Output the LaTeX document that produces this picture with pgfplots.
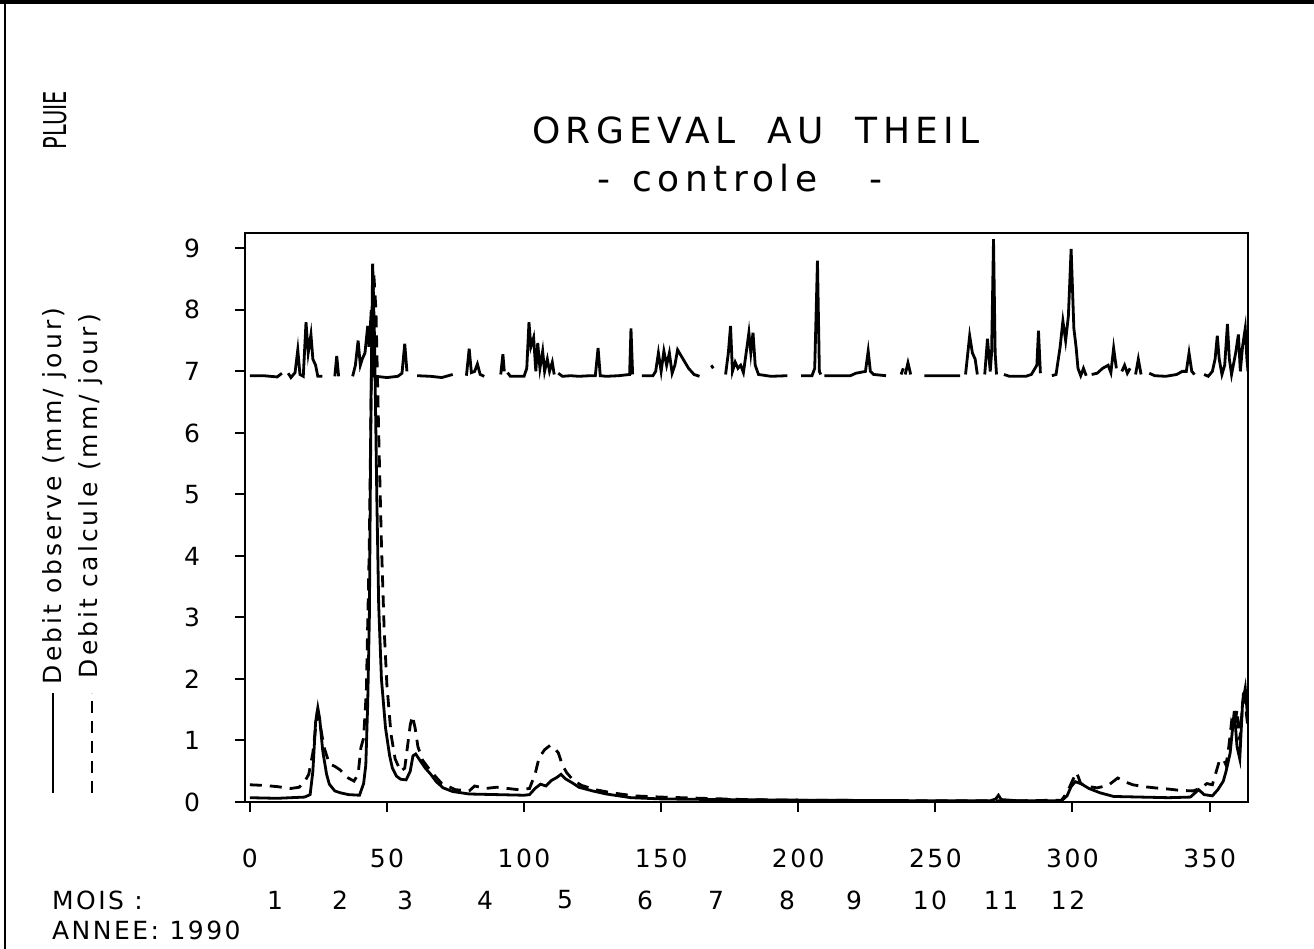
\documentclass[border=0pt]{standalone}
\usepackage{fontspec}
\setmainfont{DejaVu Sans}
\newfontfamily\spaced[LetterSpace=15]{DejaVu Sans}
\newfontfamily\lspaced[LetterSpace=10]{DejaVu Sans}
\newfontfamily\legfont[LetterSpace=12]{DejaVu Sans}
\usepackage{graphicx}
\usepackage{pgfplots}
\pgfplotsset{compat=1.18}

\pgfplotstableread{
x y
0 0.07
10 0.06
20 0.08
22 0.12
23 0.5
24 1.3
24.8 1.53
25.5 1.35
26.6 0.83
28 0.45
29 0.29
31 0.18
33 0.15
36 0.12
40 0.11
41.5 0.3
42.3 0.6
43 1.6
43.6 3.0
44.2 6.5
44.8 8.75
45.5 7.5
46.3 5.0
47 3.2
48 2.0
49.5 1.2
51 0.75
52 0.55
53.5 0.42
55 0.37
57 0.36
58.5 0.5
59.5 0.75
60.5 0.78
62 0.68
64 0.55
66 0.45
68 0.33
70.5 0.23
74 0.17
80 0.13
90 0.12
100 0.11
102 0.12
104 0.22
106 0.29
108 0.26
110 0.35
112 0.4
113.5 0.45
115 0.38
118 0.3
120 0.24
125 0.18
130 0.13
139 0.07
150 0.05
170 0.04
200 0.03
250 0.02
270 0.02
272 0.05
273 0.11
274 0.04
280 0.02
296 0.02
298 0.1
299.5 0.25
301 0.33
303 0.3
306 0.22
310 0.15
315 0.09
325 0.08
335 0.07
343 0.08
346 0.2
348 0.12
351 0.1
353 0.2
355 0.34
356 0.5
357.5 0.8
359 1.48
360 0.9
361 0.7
362 1.6
363 1.85
364 1.3
}\observe

\pgfplotstableread{
x y
0 0.28
5 0.27
10 0.25
15 0.22
18 0.24
20 0.33
21.5 0.45
23 0.8
24.5 1.42
25.5 1.3
27 0.9
29 0.62
31 0.58
33 0.52
35.5 0.4
38 0.34
39.5 0.45
40.5 0.88
41.5 1.04
42.5 1.8
43.5 4.0
44.5 7.5
45.2 8.6
46 8.0
47 6.0
48 4.2
49 2.8
50 1.9
51.5 1.1
53 0.7
55 0.5
56.5 0.55
57.5 0.9
58.5 1.25
59.3 1.4
60.3 1.2
61.3 0.9
63 0.68
66 0.5
70 0.3
75 0.2
80 0.18
82 0.26
86 0.22
90 0.24
94 0.22
98 0.2
102 0.22
104 0.45
105.5 0.72
107.5 0.85
109.5 0.92
111 0.88
112.5 0.8
114 0.6
115.5 0.48
118 0.35
121 0.27
126 0.2
132 0.15
140 0.1
150 0.08
165 0.06
180 0.04
200 0.03
250 0.02
280 0.02
296 0.03
298 0.15
300 0.35
301.5 0.48
303 0.3
306 0.25
309 0.23
313 0.27
316.5 0.39
319 0.33
322 0.28
326 0.25
330 0.23
335 0.21
339 0.19
344 0.18
347 0.23
349 0.3
351 0.28
353.5 0.66
355 0.7
356 0.6
357 0.9
358 1.3
359 1.2
360 1.5
361 1.0
362.5 1.85
363.5 1.4
364 1.2
}\calcule

\pgfplotstableread{
x y
0 6.93
5 6.93
10 6.91
11.7 6.97
12 nan
14 6.97
15 6.9
16.5 6.98
17.5 7.35
18.3 6.95
19.5 6.92
20.5 7.8
21.3 7.3
22.3 7.6
23 7.2
24 7.1
24.8 6.92
26.5 6.92
27 nan
31 6.92
31.7 7.25
32.4 6.92
33 nan
37.5 6.92
38.5 7.1
39.5 7.5
40.3 7.1
41 7.2
42 7.3
43 7.74
43.5 7.4
44.3 8.0
45 6.92
46 6.92
50 6.9
54 6.92
55.5 6.97
56.5 7.45
57.3 7.0
58 nan
61 6.93
66 6.92
70 6.9
74 6.95
75 nan
79 6.93
80 7.37
80.8 6.98
82 7.0
83 7.12
84 6.95
85.5 6.92
86 nan
91.5 6.95
92.3 7.28
92.8 7.0
93 nan
94 6.98
95 6.92
100 6.92
101 7.05
101.8 7.8
102.5 7.4
103.5 7.55
104.3 7.0
105 7.46
105.8 7.05
106.8 7.33
107.5 7.0
108.5 7.2
109.3 7.0
110.3 7.15
111 6.95
111.7 nan
112.5 6.97
114 6.92
117 6.93
120 6.92
124 6.93
126 6.93
127 7.38
127.8 6.93
130 6.92
134.5 6.93
138.5 6.95
139 7.7
139.6 6.95
140 nan
143 6.93
147 6.93
148 7.0
149 7.3
150 7.0
151 7.33
152 7.1
153 7.3
154 6.97
155 7.1
156 7.35
158 7.2
160 7.05
162 6.95
164 6.92
165 nan
168.3 7.1
169 7.05
170 nan
173.5 6.95
174.5 7.3
175.3 7.74
176 7.0
177 7.15
178 7.05
179 7.1
180 6.98
181 7.3
182 7.63
182.7 7.3
183.5 7.63
184.3 7.1
185.5 6.95
190 6.92
196 6.93
197 nan
201 6.93
205 6.93
206 7.05
207 8.8
207.7 7.0
208.2 6.95
208.8 nan
209.5 6.93
219 6.93
221 6.97
224.5 7.0
225.5 7.33
226.3 7.0
227.5 6.95
232 6.93
233 nan
237.5 6.95
238.3 7.05
238.6 nan
239 6.95
240 7.14
241 6.95
242 nan
246 6.93
254 6.93
259 6.93
260 nan
261 6.95
262.5 7.58
263.5 7.3
264.5 7.2
265.3 6.95
266 nan
268 6.95
269 7.53
270 7.0
270.5 7.3
271.2 9.15
271.8 7.3
272.3 6.95
273 nan
275 6.95
277 6.92
283 6.92
285 6.95
287 7.1
287.6 7.66
288.3 6.97
289 nan
292.5 6.93
294 6.95
295.5 7.4
296.5 7.82
297.5 7.5
298.5 7.9
299.5 8.99
300.5 7.7
301.3 7.4
302 7.05
303 6.93
304 7.05
305 6.93
305.5 nan
307 6.95
309 6.97
311 7.05
313 7.1
314 6.98
315 7.38
316 7.05
316.5 nan
318 7.0
319 7.1
320 6.97
321 7.05
321.5 nan
323 6.95
324 7.2
325 6.95
326 nan
328 6.97
330 6.93
334 6.92
338 6.95
340 7.0
341.5 7.0
342.5 7.3
343.5 7.0
344.5 6.95
345 nan
348 6.95
349.5 6.92
351 7.0
352 7.2
352.8 7.58
353.5 7.2
354.5 6.95
355.5 7.1
356.5 7.77
357.2 7.2
358 6.95
359.5 7.3
360.5 7.6
361.2 7.0
362 7.4
363 7.7
363.6 7.2
364 7.0
}\pluie

\begin{document}
\begin{tikzpicture}[x=1pt,y=1pt]
\path[use as bounding box] (0,0) rectangle (657,474.5);
\draw[line width=2pt] (0,473.5) -- (657,473.5);
\draw[line width=0.9pt] (2.5,0) -- (2.5,474.5);
\begin{axis}[
  at={(122.5pt,73.5pt)}, anchor=south west,
  scale only axis, width=501.5pt, height=284.5pt,
  xmin=-1.75, xmax=364, ymin=0, ymax=9.25,
  xtick={0,50,...,350}, ytick={0,1,...,9},
  xtick pos=bottom, ytick pos=left,
  tick align=outside, major tick length=5pt,
  axis line style={line width=1.3pt},
  every tick/.style={black, line width=1pt},
  /pgf/number format/assume math mode=true,
  tick label style={font=\lspaced\fontsize{12.5}{14}\selectfont},
  xticklabel shift=15pt,
  yticklabel shift=14pt,
  unbounded coords=jump,
  clip=true,
]
\addplot[black, line width=1.4pt] table[x=x,y=y] {\pluie};
\addplot[black, line width=1.4pt] table[x=x,y=y] {\observe};
\addplot[black, line width=1.4pt, dash pattern=on 6pt off 4pt] table[x=x,y=y] {\calcule};
\end{axis}
\node[font=\spaced\fontsize{18}{20}\selectfont] at (378,409.5) {ORGEVAL\hspace{16pt}AU\hspace{16pt}THEIL};
\node[font=\spaced\fontsize{18}{20}\selectfont] at (370,385.5) {-\hspace{11pt}controle\hspace{26pt}-};
\node[rotate=90, font=\fontsize{10.5}{12}\selectfont] at (27.5,414.5) {\scalebox{1}[1.5]{PLUIE}};
\node[rotate=90, font=\legfont\fontsize{12.5}{14}\selectfont] at (27.5,226.5) {Debit observe (mm/ jour)};
\node[rotate=90, font=\legfont\fontsize{12.5}{14}\selectfont] at (45.5,226.5) {Debit calcule (mm/ jour)};
\draw[line width=1.3pt] (26.5,78) -- (26.5,128);
\draw[line width=1.3pt, dash pattern=on 6pt off 4pt] (46,78) -- (46,128);
\begin{scope}[every node/.style={font=\lspaced\fontsize{12.5}{14}\selectfont}]
\node[anchor=west] at (22.5,24.5) {MOIS :};
\node at (137.5,24.5) {1};
\node at (170,24.5) {2};
\node at (202.5,24.5) {3};
\node at (242.5,24.5) {4};
\node at (282.5,24.5) {5};
\node at (322.5,24.5) {6};
\node at (358,24.5) {7};
\node at (393.5,24.5) {8};
\node at (427,24.5) {9};
\node at (465,24.5) {10};
\node at (500.5,24.5) {11};
\node at (534,24.5) {12};
\node[anchor=west] at (22.5,9.5) {ANNEE: 1990};
\end{scope}
\end{tikzpicture}
\end{document}
